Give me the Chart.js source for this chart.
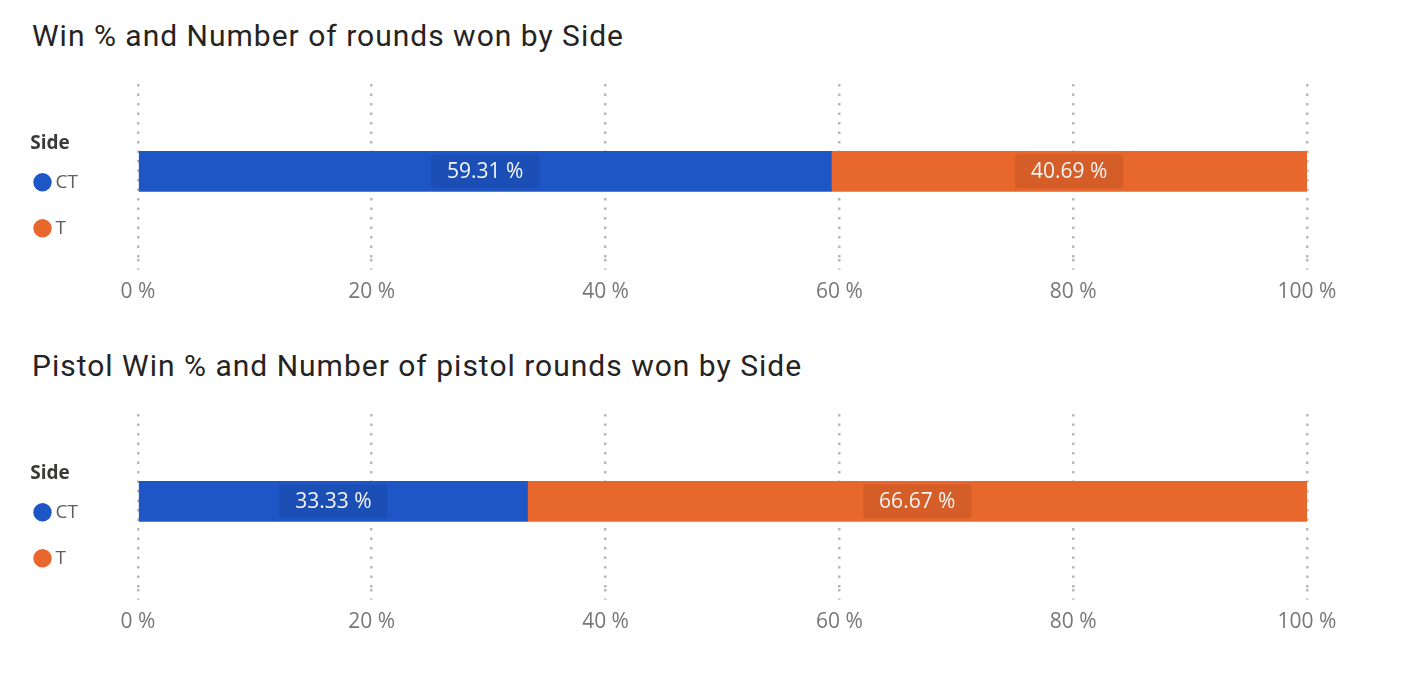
<!DOCTYPE html>
<html>
<head>
<meta charset="utf-8">
<script src="https://cdn.jsdelivr.net/npm/chart.js@4.4.1/dist/chart.umd.min.js"></script>
<style>
  html, body { margin: 0; padding: 0; background: #fff; }
  body { width: 1420px; height: 683px; position: relative; overflow: hidden; }
  .title {
    position: absolute; left: 32px;
    font-family: "Roboto", "DejaVu Sans", sans-serif;
    font-size: 30px; letter-spacing: 1px; color: #252423; line-height: 1; white-space: nowrap;
  }
  .box { position: absolute; left: 0; width: 1420px; height: 260px; }
</style>
</head>
<body>
<div class="title" style="top:21px">Win % and Number of rounds won by Side</div>
<div class="box" style="top:60px"><canvas id="winChart"></canvas></div>
<div class="title" style="top:351px">Pistol Win % and Number of pistol rounds won by Side</div>
<div class="box" style="top:390px"><canvas id="pistolChart"></canvas></div>

<script>
// data
const sides = ['CT', 'T'];
const sideColors = ['#1E56C6', '#E8672C'];
const winPct = [59.31, 40.69];
const pistolWinPct = [33.33, 66.67];
const tickValues = [0, 20, 40, 60, 80, 100];

Chart.defaults.font.family = '"Open Sans", "Noto Sans", sans-serif';

// value label with a soft darker box in the middle of each bar segment
const barLabels = {
    id: 'barLabels',
    afterDatasetsDraw(chart) {
        const ctx = chart.ctx;
        ctx.save();
        ctx.font = '21px "Open Sans", sans-serif';
        ctx.textAlign = 'center';
        ctx.textBaseline = 'middle';
        chart.data.datasets.forEach((ds, i) => {
            chart.getDatasetMeta(i).data.forEach((bar, j) => {
                const txt = ds.data[j].toFixed(2) + ' %';
                const cx = (bar.x + bar.base) / 2;
                const w = ctx.measureText(txt).width + 32;
                const h = bar.height - 6;
                ctx.fillStyle = 'rgba(0, 0, 0, 0.08)';
                ctx.beginPath();
                ctx.roundRect(cx - w / 2, bar.y - h / 2, w, h, 3);
                ctx.fill();
                ctx.fillStyle = '#f5f5f5';
                ctx.fillText(txt, cx, bar.y + 1);
            });
        });
        ctx.restore();
    }
};

function makeSideChart(canvasElement, values) {
    return new Chart(canvasElement, {
        type: 'bar',
        data: {
            labels: [''],
            datasets: sides.map((side, i) => ({
                label: side,
                data: [values[i]],
                backgroundColor: sideColors[i],
                borderWidth: 0,
                barThickness: 40
            }))
        },
        options: {
            indexAxis: 'y',
            responsive: true,
            maintainAspectRatio: false,
            animation: false,
            layout: { padding: { left: 12, right: 113, top: 24, bottom: 5 } },
            scales: {
                x: {
                    stacked: true,
                    min: 0,
                    max: 100,
                    afterBuildTicks: scale => { scale.ticks = tickValues.map(v => ({ value: v })); },
                    ticks: {
                        callback: v => v + ' %',
                        color: '#777777',
                        font: { size: 21 },
                        padding: 10
                    },
                    grid: {
                        color: '#b8b8b8',
                        lineWidth: 2.5,
                        drawTicks: true,
                        tickLength: 11,
                        tickColor: '#b8b8b8',
                        tickWidth: 2.5,
                        tickBorderDash: [2.5, 7]
                    },
                    border: { display: false, dash: [2.5, 7] }
                },
                y: {
                    stacked: true,
                    grid: { display: false },
                    ticks: { display: false },
                    border: { display: false },
                    afterFit: scale => { scale.width = 50; }
                }
            },
            plugins: {
                tooltip: { enabled: false },
                legend: {
                    position: 'left',
                    align: 'start',
                    title: {
                        display: true,
                        text: 'Side',
                        position: 'center',
                        color: '#3b3a39',
                        font: { size: 19, weight: 'bold' },
                        padding: { top: 50, bottom: -11 }
                    },
                    labels: {
                        usePointStyle: true,
                        pointStyle: 'circle',
                        boxWidth: 7,
                        boxHeight: 13,
                        padding: 27,
                        color: '#605e5c',
                        font: { size: 19 }
                    }
                }
            }
        },
        plugins: [barLabels]
    });
}

makeSideChart(document.getElementById('winChart'), winPct);
makeSideChart(document.getElementById('pistolChart'), pistolWinPct);
</script>
</body>
</html>
